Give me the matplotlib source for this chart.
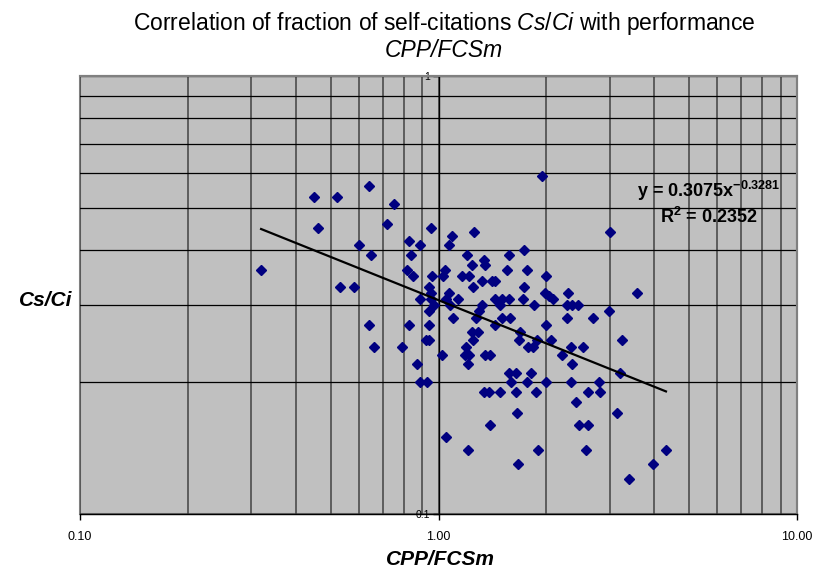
import numpy as np
import matplotlib
matplotlib.use("Agg")
import matplotlib.pyplot as plt
from matplotlib.ticker import FixedLocator, FixedFormatter, LogLocator, NullFormatter
from matplotlib.patches import Rectangle

plt.rcParams['font.family'] = ['Liberation Sans', 'DejaVu Sans']
plt.rcParams['mathtext.fontset'] = 'custom'
plt.rcParams['mathtext.rm'] = 'Liberation Sans'
plt.rcParams['mathtext.it'] = 'Liberation Sans:italic'
plt.rcParams['mathtext.bf'] = 'Liberation Sans:bold'

# ---- data: CPP/FCSm (x) and Cs/Ci (y) ----
cpp_fcsm = [
    0.32, 0.45, 0.52, 0.64, 0.75, 0.46, 0.72, 0.60, 0.65, 0.53, 0.58, 0.64, 0.66, 0.79,
    0.83, 0.89, 0.84, 0.815, 0.85, 0.83, 0.87, 0.89,
    0.95, 1.26, 1.09, 1.07, 1.20, 1.24, 1.04, 0.96, 1.03, 1.165, 1.22, 0.94, 1.25, 0.95,
    1.07, 0.89, 0.95, 1.05, 1.13, 0.97, 1.08, 0.94, 1.10, 1.27, 0.94,
    1.24, 1.29, 0.92, 0.94, 1.25, 1.02, 1.19, 1.185, 1.22, 1.35, 1.39, 1.21, 0.93, 1.34,
    1.38, 1.05, 1.21,
    1.95, 1.735, 1.57, 1.34, 1.35, 1.55, 1.77, 2.00, 1.32, 1.41, 1.44, 1.73, 1.98, 2.03,
    2.08, 1.44, 1.50, 1.57, 1.72, 1.48, 1.32, 1.85, 1.30, 1.50, 1.58, 1.69, 2.00, 1.44,
    1.68, 1.78, 1.84, 1.88, 2.06, 2.21, 1.57, 1.65, 1.81, 1.59, 1.77, 2.00, 1.48, 1.65,
    1.87, 1.66, 1.39, 1.90, 1.67,
    3.00, 2.30, 3.57, 2.28, 2.35, 2.45, 2.28, 2.70, 2.99, 3.26, 2.34, 2.53, 2.36, 3.21,
    2.34, 2.81, 2.62, 2.83, 2.42, 3.14, 2.47, 2.62, 2.58, 4.31, 3.97, 3.41,
]
cs_ci = [
    0.36, 0.53, 0.53, 0.56, 0.51, 0.45, 0.46, 0.41, 0.39, 0.33, 0.33, 0.27, 0.24, 0.24,
    0.42, 0.41, 0.39, 0.36, 0.35, 0.27, 0.22, 0.20,
    0.45, 0.44, 0.43, 0.41, 0.39, 0.37, 0.36, 0.35, 0.35, 0.35, 0.35, 0.33, 0.33, 0.32,
    0.32, 0.31, 0.31, 0.31, 0.31, 0.30, 0.30, 0.29, 0.28, 0.28, 0.27,
    0.26, 0.26, 0.25, 0.25, 0.25, 0.23, 0.24, 0.23, 0.23, 0.23, 0.23, 0.22, 0.20, 0.19,
    0.19, 0.15, 0.14,
    0.59, 0.40, 0.39, 0.38, 0.37, 0.36, 0.36, 0.35, 0.34, 0.34, 0.34, 0.33, 0.32, 0.315,
    0.31, 0.31, 0.31, 0.31, 0.31, 0.30, 0.30, 0.30, 0.29, 0.28, 0.28, 0.26, 0.27, 0.27,
    0.25, 0.24, 0.24, 0.25, 0.25, 0.23, 0.21, 0.21, 0.21, 0.20, 0.20, 0.20, 0.19, 0.19,
    0.19, 0.17, 0.16, 0.14, 0.13,
    0.44, 0.32, 0.32, 0.30, 0.30, 0.30, 0.28, 0.28, 0.29, 0.25, 0.24, 0.24, 0.22, 0.21,
    0.20, 0.20, 0.19, 0.19, 0.18, 0.17, 0.16, 0.16, 0.14, 0.14, 0.13, 0.12,
]

# power-law trendline as reported on the chart
trend_a = 0.3075
trend_b = -0.3281
trend_label = "0.3075"
trend_exp_label = "-0.3281"
r2_label = "0.2352"

x_ticks = [0.1, 1.0, 10.0]
x_tick_labels = ["0.10", "1.00", "10.00"]
y_ticks = [0.1, 1.0]
y_tick_labels = ["0.1", "1"]

title_line1 = r"Correlation of fraction of self-citations $\mathit{Cs/Ci}$ with performance"
title_line2 = "CPP/FCSm"
x_title = "CPP/FCSm"
y_title = "Cs/Ci"

# ---- figure ----
W, H = 815, 568
fig = plt.figure(figsize=(W / 100, H / 100), dpi=100)
ax = fig.add_axes([80 / W, 1 - 514 / H, 717 / W, 438.3 / H])
ax.set_xscale('log')
ax.set_yscale('log')
ax.set_xlim(0.1, 10)
ax.set_ylim(0.1, 1)
ax.set_facecolor('#C0C0C0')
ax.set_axisbelow(True)

ax.xaxis.set_major_locator(FixedLocator(x_ticks))
ax.xaxis.set_major_formatter(FixedFormatter(x_tick_labels))
ax.xaxis.set_minor_locator(LogLocator(base=10, subs=np.arange(2, 10)))
ax.xaxis.set_minor_formatter(NullFormatter())
ax.yaxis.set_major_locator(FixedLocator(y_ticks))
ax.yaxis.set_major_formatter(FixedFormatter(y_tick_labels))
ax.yaxis.set_minor_locator(LogLocator(base=10, subs=np.arange(2, 10)))
ax.yaxis.set_minor_formatter(NullFormatter())

ax.grid(True, which='both', axis='x', color='#555555', lw=1.3)
ax.grid(True, which='both', axis='y', color='black', lw=0.9)

for s in ['top', 'right']:
    ax.spines[s].set_color('#808080')
    ax.spines[s].set_linewidth(1.5)
ax.spines['bottom'].set_color('black')
ax.spines['bottom'].set_linewidth(1.0)
ax.spines['left'].set_position(('data', 1.0))
ax.spines['left'].set_color('black')
ax.spines['left'].set_linewidth(1.0)
ax.add_patch(Rectangle((0, 0), 1, 1, transform=ax.transAxes, fill=False,
                       edgecolor='#808080', lw=1.5, zorder=0.5, clip_on=False))

ax.tick_params(axis='x', which='major', direction='out', length=4, width=1,
               labelsize=9, pad=8, colors='black')
ax.tick_params(axis='y', which='major', direction='out', length=4, width=1,
               labelsize=7.5, pad=2, colors='black')
ax.tick_params(which='minor', length=0)

# scatter
ax.plot(cpp_fcsm, cs_ci, linestyle='none', marker='D', ms=4.6,
        color='#000080', mec='#000080', zorder=3)

# trendline
tx = np.geomspace(min(cpp_fcsm), max(cpp_fcsm), 50)
ax.plot(tx, trend_a * tx ** trend_b, color='black', lw=1.6, zorder=4)

# equation
fig.text(709 / W, 1 - 196.7 / H,
         "y = " + trend_label + "x$^{\\mathbf{" + trend_exp_label + "}}$",
         ha='center', va='baseline', fontsize=13, fontweight='bold')
fig.text(709 / W, 1 - 223.3 / H, "R$^{\\mathbf{2}}$ = " + r2_label,
         ha='center', va='baseline', fontsize=13, fontweight='bold')

# titles
fig.text(444 / W, 1 - 30 / H, title_line1, ha='center', va='baseline', fontsize=16.5)
fig.text(444 / W, 1 - 56.7 / H, title_line2, ha='center', va='baseline',
         fontsize=16.5, style='italic')
fig.text(440 / W, 1 - 565 / H, x_title, ha='center', va='baseline', fontsize=15,
         fontweight='bold', style='italic')
fig.text(46 / W, 1 - 300 / H, y_title, ha='center', va='center', fontsize=15,
         fontweight='bold', style='italic')

fig.savefig('out.png', dpi=100)
